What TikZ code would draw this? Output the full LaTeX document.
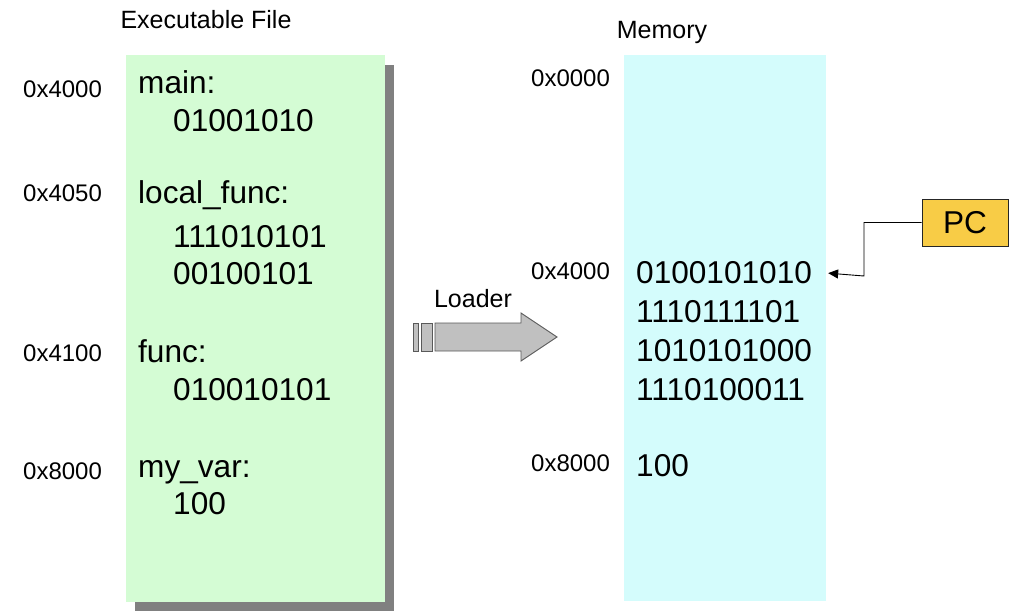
\documentclass[tikz,border=0pt]{standalone}
\usepackage{fontspec}
\setmainfont{Liberation Sans}
\usetikzlibrary{arrows.meta,positioning,calc}
\definecolor{FileGreen}{RGB}{212,252,212}
\definecolor{MemCyan}{RGB}{212,252,252}
\definecolor{ShadowGray}{RGB}{128,128,128}
\definecolor{LoaderGray}{RGB}{192,192,192}
\definecolor{PCYellow}{RGB}{248,204,70}
\tikzset{
  addr/.style={anchor=base west,inner sep=0pt,font=\fontsize{24}{28}\selectfont},
  codeline/.style={anchor=base west,inner sep=0pt,font=\fontsize{31.6}{37}\selectfont},
  heading/.style={anchor=base,inner sep=0pt,font=\fontsize{25}{29}\selectfont},
  pcbox/.style={rectangle,draw=black!85,fill=PCYellow,line width=1pt,
    minimum width=86pt,minimum height=47pt,inner sep=0pt,
    font=\fontsize{31.6}{37}\selectfont},
  pcarrow/.style={-{Triangle[length=10pt,width=9pt]},line width=0.9pt},
  loadpart/.style={draw=black!65,fill=LoaderGray,line width=0.9pt}
}

\begin{document}
\begin{tikzpicture}[x=1pt,y=-1pt]
  \useasboundingbox (0,0) rectangle (1024,614);
  % executable file with shadow
  \fill[ShadowGray] (135,65) rectangle (394,611);
  \fill[FileGreen] (126,55) rectangle (385,602);
  % memory
  \fill[MemCyan] (624,55) rectangle (826,601);
  \node[heading] (fileTitle) at (206,28) {Executable File};
  \node[heading] (memTitle) at (662,38) {Memory};
  % addresses
  \foreach \txt/\x/\y [count=\i] in {0x4000/23/97,0x4050/23/201,0x4100/23/361,0x8000/23/479}
    \node[addr] (faddr\i) at (\x,\y) {\txt};
  \foreach \txt/\x/\y [count=\i] in {0x0000/531/86,0x4000/531/279,0x8000/531/471}
    \node[addr] (maddr\i) at (\x,\y) {\txt};
  % file contents
  \foreach \txt/\x/\y [count=\i] in {main:/138/93,01001010/173/131,
      local\_func:/138/203,111010101/173/247,00100101/173/284,
      func:/138/362,010010101/173/400,my\_var:/138/477,100/173/514}
    \node[codeline] (file\i) at (\x,\y) {\txt};
  % memory contents
  \foreach \txt/\y [count=\i] in {0100101010/283,1110111101/322,1010101000/361,
      1110100011/400,100/476}
    \node[codeline] (mem\i) at (636,\y) {\txt};
  % program counter
  \node[pcbox] (pc) at (965,222.5) {PC};
  \coordinate (pcbend) at (864,276);
  \draw[pcarrow] (pc.west) -| (pcbend) -- ([xshift=16pt,yshift=-1pt]mem1.east);
  % loader
  \node[heading] (loader) at (473,307) {Loader};
  \draw[loadpart] (413,323) rectangle (418,351);
  \draw[loadpart] (421,323) rectangle (432,351);
  \draw[loadpart] (435,323) -- (521,323) -- (521,313) -- (557,337)
    -- (521,361) -- (521,351) -- (435,351) -- cycle;
\end{tikzpicture}
\end{document}
